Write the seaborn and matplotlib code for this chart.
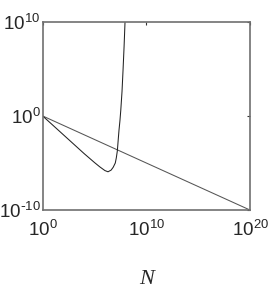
import numpy as np
import pandas as pd
import matplotlib
matplotlib.use("Agg")
import matplotlib.pyplot as plt
import seaborn as sns

# values, in decades (log10)
curve_logN = [0, 1, 2, 3, 4, 5, 5.5, 6.0, 6.3, 6.6, 6.8, 7.0, 7.1, 7.2, 7.3,
              7.36, 7.45, 7.53, 7.65, 7.75, 7.85, 7.94]
curve_logY = [0, -1, -2, -3, -4, -4.95, -5.4, -5.8, -5.93, -5.75, -5.45, -5.0,
              -4.45, -3.7, -2.3, -1.5, -0.5, 0.6, 2.6, 4.9, 7.4, 10]
line_logN = [0, 20]
line_logY = [0, -10]

xticks = [0, 10, 20]
yticks = [-10, 0, 10]

sns.set_style("white")
plt.rcParams['font.family'] = ['Liberation Sans', 'DejaVu Sans']
plt.rcParams['mathtext.default'] = 'regular'


def decade_label(t):
    # plain hyphen for the sign, like the reference
    e = str(t).replace('-', r'\text{-}')
    return f'$10^{{{e}}}$'


curve = pd.DataFrame({'N': np.power(10.0, curve_logN), 'y': np.power(10.0, curve_logY)})
line = pd.DataFrame({'N': np.power(10.0, line_logN), 'y': np.power(10.0, line_logY)})

fig = plt.figure(figsize=(2.77, 2.91), dpi=100)
ax = fig.add_axes([0.154, 0.278, 0.749, 0.647])

sns.lineplot(data=line, x='N', y='y', ax=ax, color='#555555', linewidth=0.75,
             estimator=None, sort=False)
sns.lineplot(data=curve, x='N', y='y', ax=ax, color='#222222', linewidth=0.75,
             estimator=None, sort=False)

ax.set_xscale('log')
ax.set_yscale('log')
ax.set_xlim(1, 1e20)
ax.set_ylim(1e-10, 1e10)
ax.set_xticks([10.0 ** t for t in xticks])
ax.set_xticklabels([decade_label(t) for t in xticks])
ax.set_yticks([10.0 ** t for t in yticks])
ax.set_yticklabels([decade_label(t) for t in yticks])
ax.minorticks_off()
ax.tick_params(direction='in', length=2.5, width=0.8, color='#333333',
               labelsize=13.5, top=True, right=True)
ax.tick_params(axis='x', pad=7)
ax.tick_params(axis='y', pad=1.5)
for s in ax.spines.values():
    s.set_color('#707070')
    s.set_linewidth(1.2)

ax.set_xlabel('N', fontfamily='Liberation Serif', fontstyle='italic',
              fontsize=16, labelpad=22)
ax.set_ylabel('')

fig.savefig('out.png', dpi=100)
